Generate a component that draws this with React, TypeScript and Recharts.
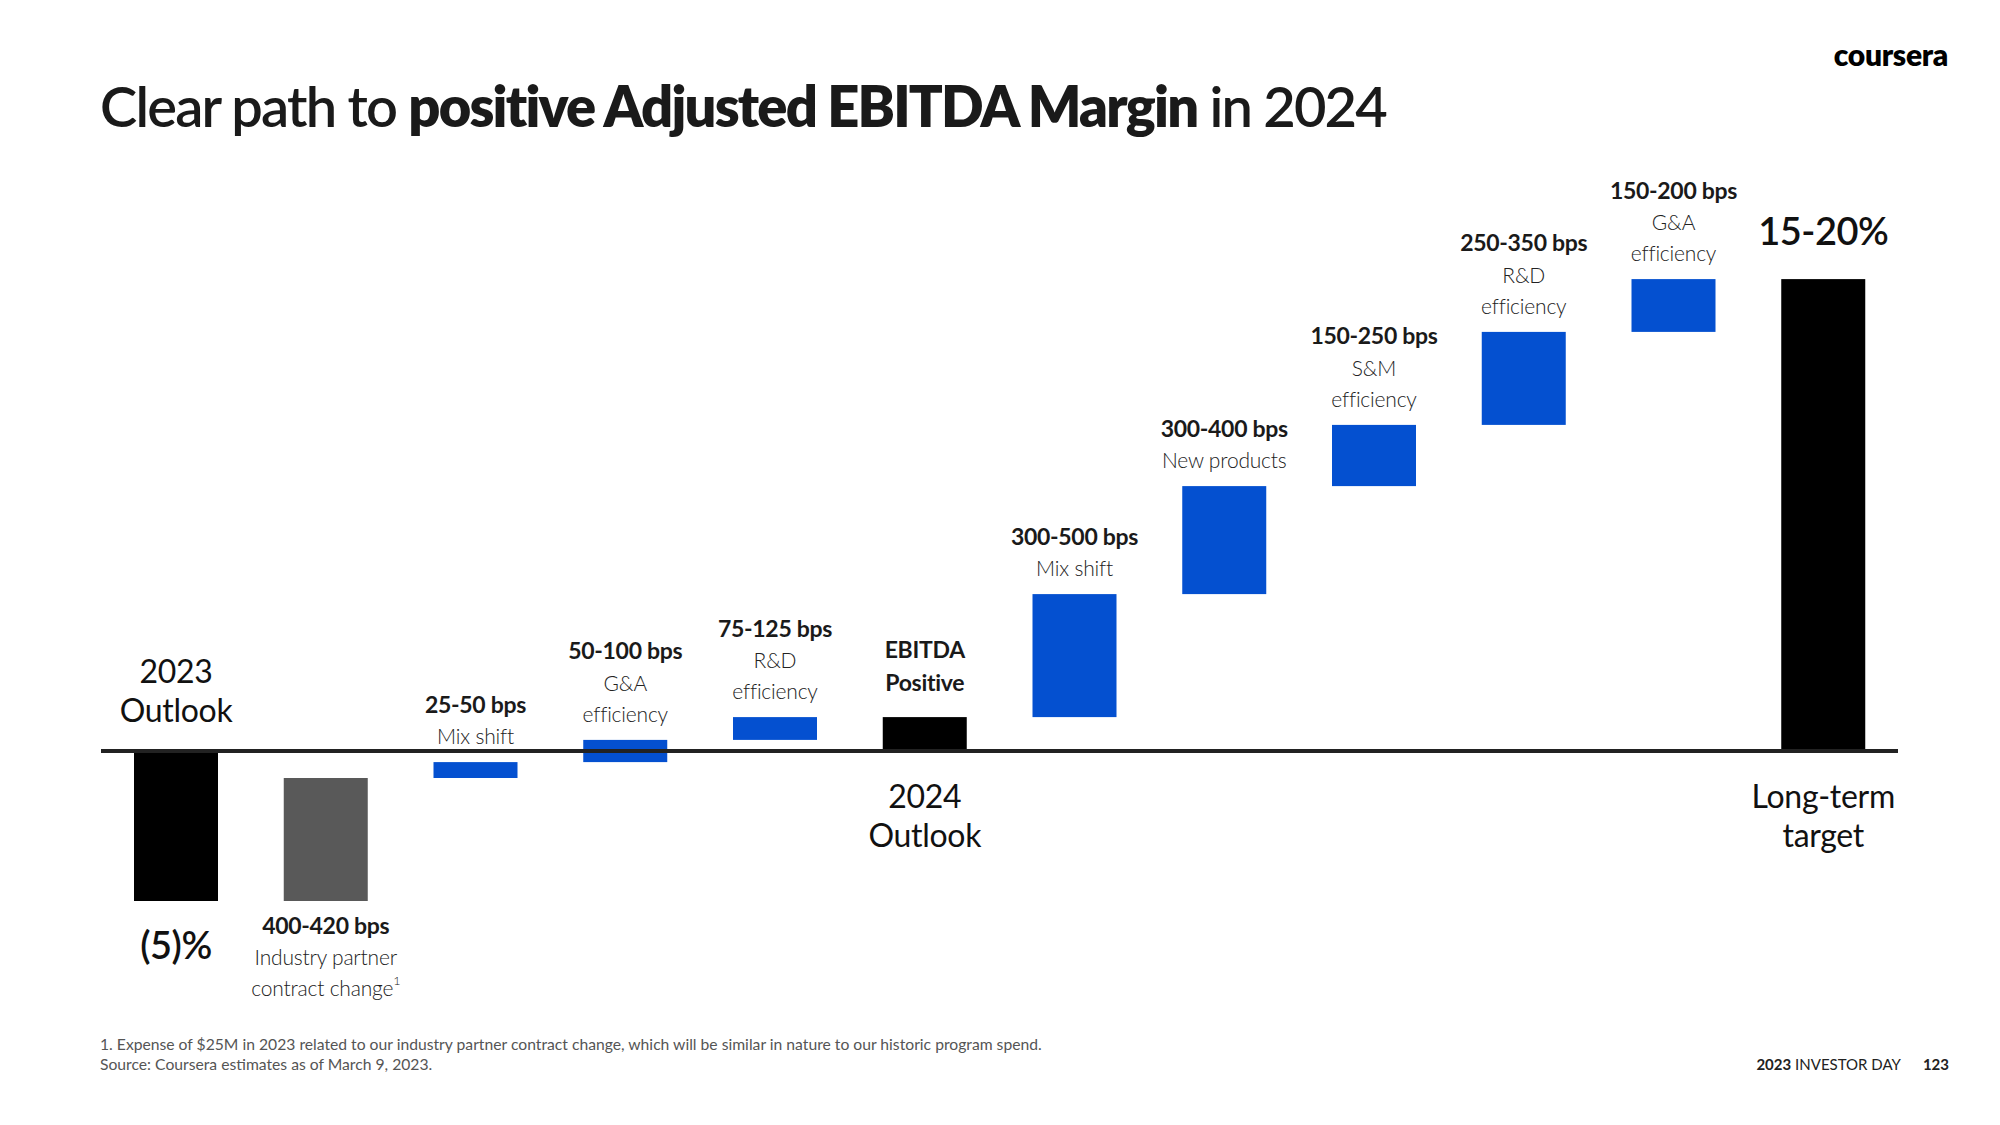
import React from 'react';
import { BarChart, Bar, XAxis, YAxis, Cell, ReferenceLine } from 'recharts';

// ---- data (margin, % of revenue) ----
const keys = ['y2023', 'partner', 'mix1', 'ga1', 'rd1', 'y2024', 'mix2', 'newprod', 'sm', 'rd2', 'ga2', 'longterm'];
const lows = [-5, -5, -0.9, -0.37, 0.37, 0, 1.13, 5.23, 8.83, 10.87, 13.97, 0];
const highs = [0, -0.9, -0.37, 0.37, 1.13, 1.13, 5.23, 8.83, 10.87, 13.97, 15.73, 15.73];
const kinds = ['total', 'decrease', 'increase', 'increase', 'increase', 'total', 'increase', 'increase', 'increase', 'increase', 'increase', 'total'];
const headlines = ['', '400-420 bps', '25-50 bps', '50-100 bps', '75-125 bps', 'EBITDA|Positive', '300-500 bps', '300-400 bps', '150-250 bps', '250-350 bps', '150-200 bps', ''];
const descriptions = ['', 'Industry partner|contract change¹', 'Mix shift', 'G&A|efficiency', 'R&D|efficiency', '', 'Mix shift', 'New products', 'S&M|efficiency', 'R&D|efficiency', 'G&A|efficiency', ''];
const valueLabels = ['(5)%', '', '', '', '', '', '', '', '', '', '', '15-20%'];
const periodLabels = ['2023|Outlook', '', '', '', '', '2024|Outlook', '', '', '', '', '', 'Long-term|target'];

const titleRegular1 = 'Clear path to ';
const titleBold = 'positive Adjusted EBITDA Margin';
const titleRegular2 = ' in 2024';
const footnote1 = '1. Expense of $25M in 2023 related to our industry partner contract change, which will be similar in nature to our historic program spend.';
const footnote2 = 'Source: Coursera estimates as of March 9, 2023.';

const colors: Record<string, string> = { total: '#000000', decrease: '#595959', increase: '#0450D0' };

const data = keys.map((k, i) => ({ key: k, idx: i, range: [lows[i], highs[i]] }));

const FONT = 'Lato, "Source Sans Pro", "Noto Sans", sans-serif';

type Style = 'head' | 'desc' | 'period' | 'value';
const styles: Record<Style, { size: number; weight: number; color: string; h: number; padA: number; padB: number; ls: number }> = {
  head: { size: 23, weight: 700, color: '#1a1a1a', h: 33, padA: 19, padB: 7, ls: -0.3 },
  desc: { size: 21, weight: 300, color: '#222222', h: 31, padA: 11, padB: 7, ls: -0.2 },
  period: { size: 32, weight: 400, color: '#111111', h: 39, padA: 22, padB: 25, ls: -0.3 },
  value: { size: 38, weight: 600, color: '#111111', h: 44, padA: 27, padB: 21, ls: -0.5 },
};

type Line = { text: string; style: Style };
const split = (s: string, style: Style): Line[] => (s ? s.split('|').map((t) => ({ text: t, style })) : []);

function lineText(l: Line, cx: number, cy: number, key: string) {
  const st = styles[l.style];
  const sup = l.text.endsWith('¹');
  const body = sup ? l.text.slice(0, -1) : l.text;
  return (
    <text key={key} x={cx} y={cy} textAnchor="middle" dominantBaseline="central" letterSpacing={st.ls}
      fontFamily={FONT} fontSize={st.size} fontWeight={st.weight} fill={st.color}>
      {body}
      {sup ? <tspan fontSize={st.size * 0.6} dy={-8}>1</tspan> : null}
    </text>
  );
}

function renderLines(lines: Line[], cx: number, edge: number, dir: 'above' | 'below', keyPrefix: string) {
  const out: React.ReactNode[] = [];
  if (!lines.length) return out;
  if (dir === 'above') {
    let cursor = edge - styles[lines[lines.length - 1].style].padA;
    for (let j = lines.length - 1; j >= 0; j--) {
      const st = styles[lines[j].style];
      out.push(lineText(lines[j], cx, cursor - st.h / 2, keyPrefix + j));
      cursor -= st.h;
    }
  } else {
    let cursor = edge + styles[lines[0].style].padB;
    for (let j = 0; j < lines.length; j++) {
      const st = styles[lines[j].style];
      out.push(lineText(lines[j], cx, cursor + st.h / 2, keyPrefix + j));
      cursor += st.h;
    }
  }
  return out;
}

const BarShape = (props: any) => {
  const { x, y, width, height, fill } = props;
  const i: number = props.payload?.idx ?? props.index;
  const top = Math.min(y, y + height);
  const bottom = Math.max(y, y + height);
  const cx = x + width / 2;
  const farBelow = kinds[i] === 'decrease' || (kinds[i] === 'total' && highs[i] <= 0);
  const farLines: Line[] = [
    ...split(valueLabels[i], 'value'),
    ...split(headlines[i], 'head'),
    ...split(descriptions[i], 'desc'),
  ];
  const nearLines = split(periodLabels[i], 'period');
  return (
    <g>
      <rect x={x} y={top} width={width} height={bottom - top} fill={fill} />
      {farBelow
        ? renderLines(farLines, cx, bottom, 'below', 'f')
        : renderLines(farLines, cx, top, 'above', 'f')}
      {farBelow
        ? renderLines(nearLines, cx, top, 'above', 'n')
        : renderLines(nearLines, cx, bottom, 'below', 'n')}
    </g>
  );
};

export default function App() {
  return (
    <div style={{ position: 'absolute', left: 0, top: 0, width: 2000, height: 1125, background: '#ffffff', overflow: 'hidden' }}>
      <div style={{ position: 'absolute', left: 0, top: 0 }}>
        <BarChart width={2000} height={1125} data={data} barSize={84}
          margin={{ top: 241, right: 102, bottom: 194, left: 101 }}>
          <XAxis dataKey="key" hide />
          <YAxis hide type="number" domain={[-6, 17]} />
          <Bar dataKey="range" isAnimationActive={false} shape={BarShape}>
            {data.map((d, i) => (
              <Cell key={d.key} fill={colors[kinds[i]]} />
            ))}
          </Bar>
          <ReferenceLine y={0} stroke="#222222" strokeWidth={4} />
        </BarChart>
      </div>
      <svg width={2000} height={1125} style={{ position: 'absolute', left: 0, top: 0, pointerEvents: 'none' }}>
        <text x={100} y={127} fontFamily={FONT} fontSize={56} letterSpacing={-1.8} fill="#1a1a1a">
          <tspan fontWeight={600}>{titleRegular1}</tspan>
          <tspan fontWeight={800}>{titleBold}</tspan>
          <tspan fontWeight={600}>{titleRegular2}</tspan>
        </text>
        <text x={1948} y={66} textAnchor="end" fontFamily={FONT} fontSize={30} fontWeight={800} fill="#000" letterSpacing={-0.3}>coursera</text>
        <text x={100} y={1050} fontFamily={FONT} fontSize={15.7} fill="#555555">{footnote1}</text>
        <text x={100} y={1070} fontFamily={FONT} fontSize={15.7} fill="#555555">{footnote2}</text>
        <text x={1949} y={1070} textAnchor="end" fontFamily={FONT} fontSize={15} fill="#222">
          <tspan fontWeight={700}>2023</tspan>
          <tspan fontWeight={400}> INVESTOR DAY</tspan>
          <tspan dx={22} fontWeight={700}>123</tspan>
        </text>
      </svg>
    </div>
  );
}
